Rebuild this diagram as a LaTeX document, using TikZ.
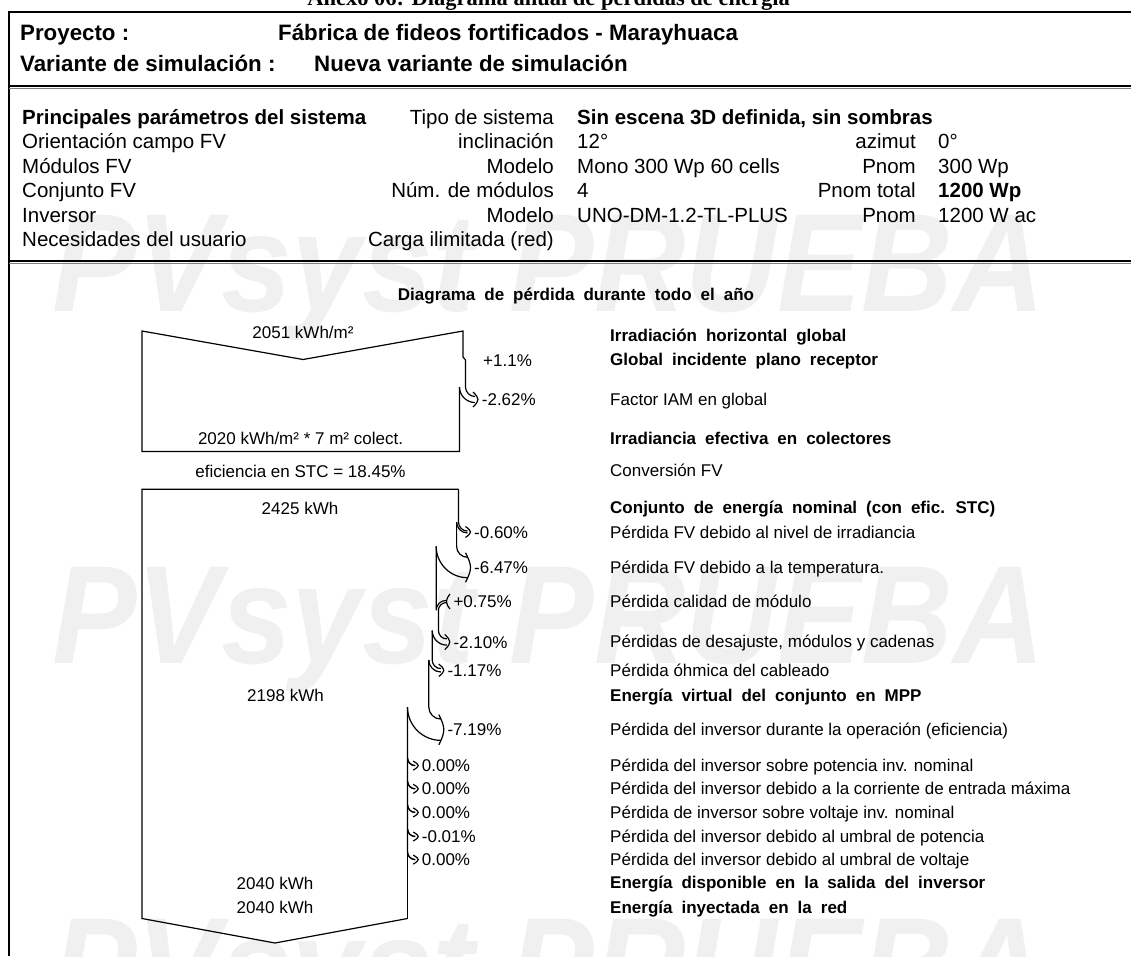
\documentclass[tikz,border=0pt]{standalone}
\usepackage{fontspec}
\usepackage{graphicx}
\setmainfont{Liberation Sans}
\newfontfamily\serifbold{Liberation Serif}
\newfontfamily\spacedsans{Liberation Sans}[WordSpace=1.9]
\definecolor{wm}{RGB}{240,240,240}
\def\lastys{0}
\newcommand\lossglyph[4]{%
 \pgfmathsetmacro\lgW{#1-#2}%
 \pgfmathsetmacro\lgR{#4-3-#1}%
 \pgfmathsetmacro\lgRi{\lgR+\lgW}%
 \pgfmathsetmacro\lgYs{#3-\lgW/2-\lgR}%
 \pgfmathsetmacro\lgXe{#1+\lgR}%
 \pgfmathsetmacro\lgYt{#3-\lgW/2}%
 \pgfmathsetmacro\lgYb{#3+\lgW/2}%
 \pgfmathsetmacro\lgH{\lgW/2+4.5}%
 \draw[diag] (#1,\lastys) -- (#1,\lgYs) .. controls (#1,\lgYs+0.55*\lgR) and (\lgXe-0.55*\lgR,\lgYt) .. (\lgXe,\lgYt);
 \draw[diag] (#2,\lgYs) .. controls (#2,\lgYs+0.55*\lgRi) and (\lgXe-0.55*\lgRi,\lgYb) .. (\lgXe,\lgYb);
 \draw[diag] (\lgXe-2,#3-\lgH) .. controls (\lgXe+1.5,#3-0.55*\lgH) and (\lgXe+3,#3-0.25*\lgH) .. (\lgXe+3,#3) .. controls (\lgXe+3,#3+0.25*\lgH) and (\lgXe+1.5,#3+0.55*\lgH) .. (\lgXe-2,#3+\lgH);
 \xdef\lastys{\lgYs}%
}
\begin{document}
\begin{tikzpicture}[x=1pt,y=-1pt,
  diag/.style={line width=1.2pt,line join=miter},
  wmk/.style={anchor=base west,inner sep=0,text=wm,font=\fontsize{132}{140}\selectfont\bfseries\itshape},
  hdr/.style={anchor=base west,inner sep=0,font=\fontsize{22.3}{26}\selectfont\bfseries},
  prm/.style={inner sep=0,font=\fontsize{20.5}{24}\selectfont},
  prmb/.style={inner sep=0,font=\fontsize{20.5}{24}\selectfont\bfseries},
  dg/.style={inner sep=0,font=\fontsize{17}{20}\selectfont},
  dgb/.style={inner sep=0,font=\fontsize{17}{20}\spacedsans\bfseries},
  lab/.style={dg,anchor=base west},
  labb/.style={dgb,anchor=base west}]
\useasboundingbox (0,0) rectangle (1131,956);
% watermark
\node[wmk] (wmA) at (52,311) {\scalebox{0.96}[1.06]{PVsyst PRUEBA}};
\node[wmk] (wmB) at (52,663) {\scalebox{0.96}[1.06]{PVsyst PRUEBA}};
\node[wmk] (wmC) at (52,1015) {\scalebox{0.96}[1.06]{PVsyst PRUEBA}};
% title (cut at top)
\node[anchor=base east,inner sep=0,font=\fontsize{22.5}{26}\serifbold\bfseries] (title) at (790,5) {Anexo 06: Diagrama anual de pérdidas de energía};
% frame
\draw[line width=2pt] (1131,12) -- (9,12) -- (9,956);
\draw[line width=1.5pt] (9,86) -- (1131,86);
\draw[line width=1.2pt,gray] (9,88.6) -- (1131,88.6);
\draw[line width=1.5pt] (9,261) -- (1131,261);
\draw[line width=1.2pt,gray] (9,263.6) -- (1131,263.6);
% header
\node[hdr] (h1) at (20,40) {Proyecto :};
\node[hdr] (h2) at (278,40) {Fábrica de fideos fortificados - Marayhuaca};
\node[hdr] (h3) at (20,71) {Variante de simulación :};
\node[hdr] (h4) at (314,71) {Nueva variante de simulación};
% parameters
\node[prmb,anchor=base west] (p1a) at (22,124.3) {Principales parámetros del sistema};
\node[prm,anchor=base east] (p1b) at (554,124.3) {Tipo de sistema};
\node[prmb,anchor=base west] (p1c) at (577,124.3) {Sin escena 3D definida, sin sombras};
\node[prm,anchor=base west] (p2a) at (22,148.8) {Orientación campo FV};
\node[prm,anchor=base east] (p2b) at (554,148.8) {inclinación};
\node[prm,anchor=base west] (p2c) at (577,148.8) {12°};
\node[prm,anchor=base east] (p2d) at (916,148.8) {azimut};
\node[prm,anchor=base west] (p2e) at (938,148.8) {0°};
\node[prm,anchor=base west] (p3a) at (22,173.3) {Módulos FV};
\node[prm,anchor=base east] (p3b) at (554,173.3) {Modelo};
\node[prm,anchor=base west] (p3c) at (577,173.3) {Mono 300 Wp 60 cells};
\node[prm,anchor=base east] (p3d) at (916,173.3) {Pnom};
\node[prm,anchor=base west] (p3e) at (938,173.3) {300 Wp};
\node[prm,anchor=base west] (p4a) at (22,197.8) {Conjunto FV};
\node[prm,anchor=base east] (p4b) at (554,197.8) {Núm. de módulos};
\node[prm,anchor=base west] (p4c) at (577,197.8) {4};
\node[prm,anchor=base east] (p4d) at (916,197.8) {Pnom total};
\node[prmb,anchor=base west] (p4e) at (938,197.8) {1200 Wp};
\node[prm,anchor=base west] (p5a) at (22,222.3) {Inversor};
\node[prm,anchor=base east] (p5b) at (554,222.3) {Modelo};
\node[prm,anchor=base west] (p5c) at (577,222.3) {UNO-DM-1.2-TL-PLUS};
\node[prm,anchor=base east] (p5d) at (916,222.3) {Pnom};
\node[prm,anchor=base west] (p5e) at (938,222.3) {1200 W ac};
\node[prm,anchor=base west] (p6a) at (22,246.8) {Necesidades del usuario};
\node[prm,anchor=base east] (p6b) at (554,246.8) {Carga ilimitada (red)};
% diagram title
\node[dgb,anchor=base] (dtitle) at (576,300) {Diagrama de pérdida durante todo el año};
% ---- top box (irradiation)
\draw[diag] (465.5,360) -- (463,357) -- (463,331) -- (303,359.5) -- (142,331) -- (142,451.5) -- (459.5,451.5) -- (459.5,387);
\def\lastys{360}
\lossglyph{465.5}{459.5}{399.5}{478}
% ---- energy box
\draw[diag] (458.5,489.3) -- (142,489.3) -- (142,918.5) -- (275,943) -- (407.5,918.5);
\def\lastys{489.3}
\lossglyph{458.5}{456.6}{532}{470.5}
\lossglyph{456.6}{436.2}{567.5}{470.5}
% gain +0.75%
\draw[diag] (436.2,\lastys) -- (436.2,610.2) .. controls (436.2,604.8) and (440.6,600.4) .. (446,600.4);
\draw[diag] (438.4,610.2) .. controls (438.4,606.4) and (441.8,602.6) .. (446,602.6);
\draw[diag] (450,594) .. controls (447.5,597) and (446.5,599.5) .. (446.5,601.5) .. controls (446.5,603.5) and (447.5,606) .. (450,609);
\def\lastys{610.2}
\lossglyph{438.4}{432.2}{642}{449.8}
\lossglyph{432.2}{428.8}{670.3}{443.8}
\lossglyph{428.8}{407.5}{729.7}{443.8}
\lossglyph{407.5}{407.5}{765.6}{418.2}
\lossglyph{407.5}{407.5}{788.8}{418.2}
\lossglyph{407.5}{407.5}{812.4}{418.2}
\lossglyph{407.5}{407.5}{836.5}{418.2}
\lossglyph{407.5}{407.5}{859.6}{418.2}
\draw[diag] (407.5,\lastys) -- (407.5,918.5);
% left labels
\node[dg,anchor=base] (l1) at (303,338) {2051 kWh/m²};
\node[dg,anchor=base] (l2) at (300.5,444.6) {2020 kWh/m² * 7 m² colect.};
\node[dg,anchor=base] (l3) at (300.5,477) {eficiencia en STC = 18.45\%};
\node[dg,anchor=base] (l4) at (300,514) {2425 kWh};
\node[dg,anchor=base] (l5) at (285.5,701.4) {2198 kWh};
\node[dg,anchor=base] (l6) at (275,889) {2040 kWh};
\node[dg,anchor=base] (l7) at (275,913) {2040 kWh};
% percentages
\node[lab] (q1) at (483,366) {+1.1\%};
\node[lab] (q2) at (481.7,405.6) {-2.62\%};
\node[lab] (q3) at (474,538.1) {-0.60\%};
\node[lab] (q4) at (474,573.6) {-6.47\%};
\node[lab] (q5) at (453.3,607.6) {+0.75\%};
\node[lab] (q6) at (453.3,648.1) {-2.10\%};
\node[lab] (q7) at (447.3,676.4) {-1.17\%};
\node[lab] (q8) at (447.3,735.8) {-7.19\%};
\node[lab] (q9) at (421.7,771.7) {0.00\%};
\node[lab] (q10) at (421.7,794.9) {0.00\%};
\node[lab] (q11) at (421.7,818.5) {0.00\%};
\node[lab] (q12) at (421.7,842.6) {-0.01\%};
\node[lab] (q13) at (421.7,865.7) {0.00\%};
% right column
\node[labb] (r1) at (610,341.7) {Irradiación horizontal global};
\node[labb] (r2) at (610,365.7) {Global incidente plano receptor};
\node[lab] (r3) at (610,405.1) {Factor IAM en global};
\node[labb] (r4) at (610,444) {Irradiancia efectiva en colectores};
\node[lab] (r5) at (610,476.8) {Conversión FV};
\node[labb] (r6) at (610,513.9) {Conjunto de energía nominal (con efic. STC)};
\node[lab] (r7) at (610,538) {Pérdida FV debido al nivel de irradiancia};
\node[lab] (r8) at (610,573.4) {Pérdida FV debido a la temperatura.};
\node[lab] (r9) at (610,607.6) {Pérdida calidad de módulo};
\node[lab] (r10) at (610,647.9) {Pérdidas de desajuste, módulos y cadenas};
\node[lab] (r11) at (610,676.3) {Pérdida óhmica del cableado};
\node[labb] (r12) at (610,701.4) {Energía virtual del conjunto en MPP};
\node[lab] (r13) at (610,735.8) {Pérdida del inversor durante la operación (eficiencia)};
\node[lab] (r14) at (610,771.7) {Pérdida del inversor sobre potencia inv. nominal};
\node[lab] (r15) at (610,794.9) {Pérdida del inversor debido a la corriente de entrada máxima};
\node[lab] (r16) at (610,818.5) {Pérdida de inversor sobre voltaje inv. nominal};
\node[lab] (r17) at (610,842.6) {Pérdida del inversor debido al umbral de potencia};
\node[lab] (r18) at (610,865.7) {Pérdida del inversor debido al umbral de voltaje};
\node[labb] (r19) at (610,888.9) {Energía disponible en la salida del inversor};
\node[labb] (r20) at (610,913) {Energía inyectada en la red};
\end{tikzpicture}
\end{document}
